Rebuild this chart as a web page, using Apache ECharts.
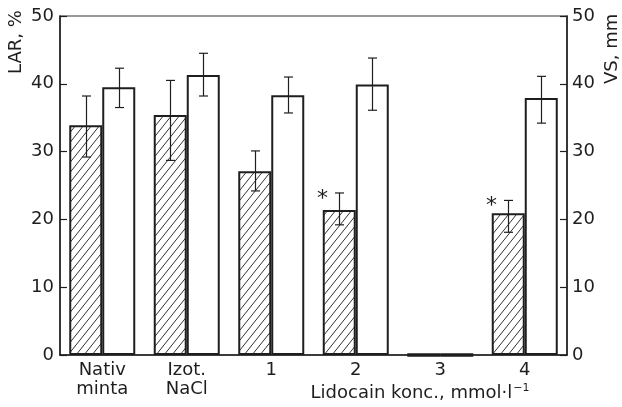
<!DOCTYPE html>
<html><head><meta charset="utf-8">
<script src="https://cdn.jsdelivr.net/npm/echarts@6/dist/echarts.min.js"></script>
<style>html,body{margin:0;padding:0;background:#fff}#c{width:622px;height:407px}</style>
</head><body><div id="c"></div>
<script>
const categories = ['Nativ\nminta', 'Izot.\nNaCl', '1', '2', '3', '4'];
const larValues = [33.9, 35.4, 27.1, 21.4, 0, 20.9];
const larLow    = [29.2, 28.7, 24.2, 19.2, null, 18.1];
const larHigh   = [38.2, 40.5, 30.1, 23.9, null, 22.8];
const vsValues  = [39.5, 41.3, 38.3, 39.9, 0, 37.9];
const vsLow     = [36.5, 38.2, 35.7, 36.1, null, 34.2];
const vsHigh    = [42.3, 44.5, 41.0, 43.8, null, 41.1];
const larMarks  = ['', '', '', '*', '', '*'];
const yMin = 0, yMax = 50, yStep = 10;

const INK = '#1e1e1e';
const FONT = 'DejaVu Sans';
const BAR_W = 33;

// hatch pattern
const pc = document.createElement('canvas');
pc.width = 8; pc.height = 10;
const g = pc.getContext('2d');
g.fillStyle = '#fff'; g.fillRect(0, 0, 8, 10);
g.strokeStyle = '#333'; g.lineWidth = 1;
g.beginPath();
g.moveTo(0, 10); g.lineTo(8, 0);
g.moveTo(-1, 1.25); g.lineTo(1, -1.25);
g.moveTo(7, 11.25); g.lineTo(9, 8.75);
g.stroke();

function barData(values) {
  return values.map(v => v === 0 ? { value: v, itemStyle: { borderWidth: 3.5 } } : v);
}

function errSeries(low, high, offset, marks) {
  const data = [];
  low.forEach((l, i) => { if (l != null && high[i] != null) data.push([i, l, high[i]]); });
  return {
    type: 'custom', z: 5, yAxisIndex: 0, silent: true,
    data: data,
    encode: { x: 0, y: [1, 2] },
    renderItem: function (params, api) {
      const i = api.value(0);
      const top = api.coord([i, api.value(2)]);
      const bot = api.coord([i, api.value(1)]);
      const x = Math.round(top[0] + offset) + 0.5;
      const cap = 4.5;
      const st = { stroke: INK, lineWidth: 1.2 };
      const children = [
        { type: 'line', shape: { x1: x, y1: top[1], x2: x, y2: bot[1] }, style: st },
        { type: 'line', shape: { x1: x - cap, y1: top[1], x2: x + cap, y2: top[1] }, style: st },
        { type: 'line', shape: { x1: x - cap, y1: bot[1], x2: x + cap, y2: bot[1] }, style: st }
      ];
      if (marks && marks[i]) {
        children.push({ type: 'text', x: x - 17, y: top[1] + 6,
          style: { text: marks[i], font: '22px ' + FONT, fill: INK, align: 'center', verticalAlign: 'middle' } });
      }
      return { type: 'group', children: children };
    }
  };
}

const chart = echarts.init(document.getElementById('c'), null, { renderer: 'canvas' });
const yAxisBase = {
  type: 'value', min: yMin, max: yMax, interval: yStep,
  splitLine: { show: false },
  axisLine: { show: true, lineStyle: { color: INK, width: 1.5 } },
  axisTick: { show: true, inside: true, length: 7, lineStyle: { color: INK, width: 1.2 } },
  axisLabel: { color: INK, fontFamily: FONT, fontSize: 18 }
};
chart.setOption({
  animation: false,
  backgroundColor: '#fff',
  grid: { left: 60, right: 55, top: 16, bottom: 52, show: true, borderColor: '#333', borderWidth: 1.2, backgroundColor: 'transparent' },
  xAxis: {
    type: 'category', data: categories, boundaryGap: true,
    axisLine: { show: true, lineStyle: { color: INK, width: 1.5 } },
    axisTick: { show: false },
    axisLabel: { color: INK, fontFamily: FONT, fontSize: 18, lineHeight: 19, margin: 6, interval: 0 }
  },
  yAxis: [
    Object.assign({}, yAxisBase, { position: 'left', axisLabel: Object.assign({}, yAxisBase.axisLabel, { margin: 6 }) }),
    Object.assign({}, yAxisBase, { position: 'right', axisLabel: Object.assign({}, yAxisBase.axisLabel, { margin: 5 }) })
  ],
  series: [
    { type: 'bar', name: 'LAR', yAxisIndex: 0, data: barData(larValues), barWidth: BAR_W, barGap: '0%', z: 3,
      itemStyle: { color: { image: pc, repeat: 'repeat' }, borderColor: INK, borderWidth: 2 } },
    { type: 'bar', name: 'VS', yAxisIndex: 1, data: barData(vsValues), barWidth: BAR_W, barGap: '0%', z: 3,
      itemStyle: { color: '#fff', borderColor: INK, borderWidth: 2 } },
    errSeries(larLow, larHigh, -BAR_W / 2, larMarks),
    errSeries(vsLow, vsHigh, BAR_W / 2, null)
  ],
  graphic: [
    { type: 'text', x: 16, y: 74, rotation: Math.PI / 2,
      style: { text: 'LAR, %', font: '18px ' + FONT, fill: INK, align: 'left', verticalAlign: 'middle' } },
    { type: 'text', x: 612, y: 84, rotation: Math.PI / 2,
      style: { text: 'VS, mm', font: '18px ' + FONT, fill: INK, align: 'left', verticalAlign: 'middle' } },
    { type: 'text', x: 420, y: 393,
      style: { text: 'Lidocain konc., mmol·l{sup|−1}', font: '18px ' + FONT, fill: INK, align: 'center', verticalAlign: 'middle',
        rich: { sup: { fontSize: 11, fontFamily: FONT, fill: INK, padding: [0, 0, 9, 1] } } } }
  ]
});
</script></body></html>
